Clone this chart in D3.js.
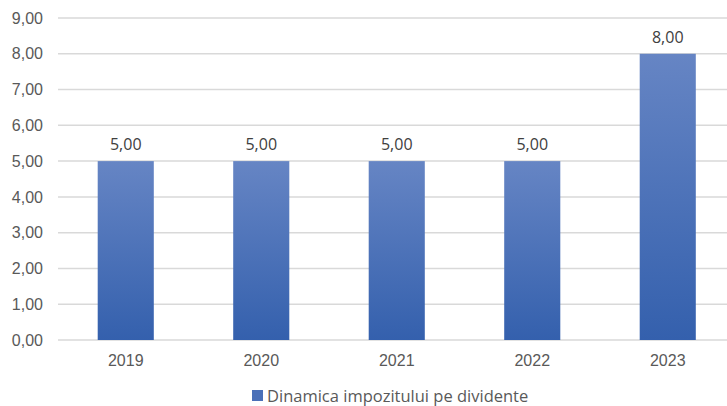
<!DOCTYPE html>
<html lang="ro">
<head>
  <meta charset="UTF-8">
  <title>Dinamica impozitului pe dividente</title>
  <script src="https://d3js.org/d3.v7.min.js"></script>
  <style>
    body { margin: 0; background: #fff; overflow: hidden; }
    svg { display: block; font-family: "Open Sans", "DejaVu Sans", sans-serif; }
  </style>
</head>
<body>
  <div id="chart"></div>
  <script>
    // date
    const years = ["2019", "2020", "2021", "2022", "2023"];
    const values = [5, 5, 5, 5, 8];
    const yTicks = [0, 1, 2, 3, 4, 5, 6, 7, 8, 9];
    const seriesName = "Dinamica impozitului pe dividente";

    const width = 727, height = 406;
    const fmt = v => d3.format(".2f")(v).replace(".", ",");

    const svg = d3.select("#chart").append("svg")
      .attr("width", width).attr("height", height);

    const grad = svg.append("defs").append("linearGradient")
      .attr("id", "barGrad").attr("x1", 0).attr("y1", 0).attr("x2", 0).attr("y2", 1);
    grad.append("stop").attr("offset", "0%").attr("stop-color", "#6685c4");
    grad.append("stop").attr("offset", "100%").attr("stop-color", "#3460ad");

    const x = d3.scaleBand().domain(years).range([58, 735.5]).paddingInner(0.586).paddingOuter(0.293);
    const y = d3.scaleLinear().domain([0, 9]).range([340, 18]);

    // grila
    svg.append("g").selectAll("line").data(yTicks).join("line")
      .attr("x1", 58).attr("x2", width)
      .attr("y1", d => y(d)).attr("y2", d => y(d))
      .attr("stroke", "#d9d9d9").attr("stroke-width", 1.5);

    // axa y
    const yAxis = svg.append("g").attr("transform", "translate(46,0)")
      .call(d3.axisLeft(y).tickValues(yTicks).tickFormat(fmt).tickSize(0));
    yAxis.select(".domain").remove();
    yAxis.selectAll("text").attr("fill", "#595959").style("font-size", "16px");

    // bare
    svg.append("g").selectAll("rect").data(values).join("rect")
      .attr("x", (d, i) => x(years[i]))
      .attr("y", d => y(d))
      .attr("width", x.bandwidth())
      .attr("height", d => y(0) - y(d))
      .attr("fill", "url(#barGrad)");

    // etichete valori
    svg.append("g").selectAll("text").data(values).join("text")
      .attr("x", (d, i) => x(years[i]) + x.bandwidth() / 2)
      .attr("y", d => y(d) - 11)
      .attr("text-anchor", "middle")
      .attr("fill", "#404040").style("font-size", "16px")
      .text(fmt);

    // axa x
    const xAxis = svg.append("g").attr("transform", "translate(0,352)")
      .call(d3.axisBottom(x).tickSize(0));
    xAxis.select(".domain").remove();
    xAxis.selectAll("text").attr("fill", "#595959").style("font-size", "16px");

    // legenda
    const leg = svg.append("g").attr("transform", "translate(252,390)");
    leg.append("rect").attr("width", 11).attr("height", 11).attr("fill", "#4a70b8");
    leg.append("text").attr("x", 15).attr("y", 11.5)
      .attr("fill", "#595959").style("font-size", "16.5px").text(seriesName);
  </script>
</body>
</html>
